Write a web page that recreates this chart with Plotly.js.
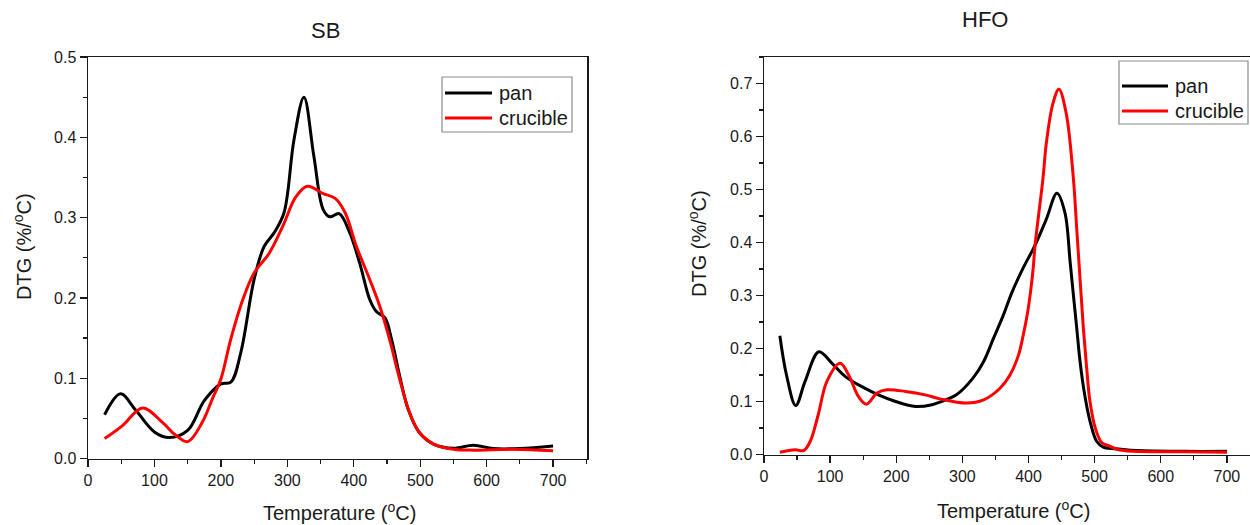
<!DOCTYPE html>
<html>
<head>
<meta charset="utf-8">
<script src="https://cdn.plot.ly/plotly-3.0.1.min.js"></script>
<style>html,body{margin:0;padding:0;background:#fff;}#chart{width:1250px;height:525px;}</style>
</head>
<body>
<div id="chart"></div>
<script>
// ---- SB data ----
const sbPanT = [25, 49, 72, 100, 122, 150, 175, 200, 215, 230, 250, 265, 280, 295, 310, 325, 340, 354, 364, 378, 394, 409, 424, 434, 447, 457, 469, 482, 499, 520, 550, 580, 610, 650, 700];
const sbPanV = [0.0545, 0.0806, 0.060, 0.033, 0.026, 0.035, 0.072, 0.093, 0.095, 0.132, 0.223, 0.264, 0.281, 0.306, 0.397, 0.450, 0.376, 0.310, 0.301, 0.305, 0.281, 0.243, 0.198, 0.183, 0.175, 0.148, 0.103, 0.061, 0.032, 0.018, 0.0128, 0.0166, 0.0124, 0.0124, 0.0157];
const sbCruT = [25, 52, 82, 112, 132, 150, 172, 187, 200, 215, 233, 250, 273, 293, 313, 330, 354, 372, 387, 404, 424, 439, 454, 469, 484, 499, 520, 550, 580, 640, 700];
const sbCruV = [0.0248, 0.041, 0.063, 0.045, 0.029, 0.021, 0.045, 0.074, 0.099, 0.149, 0.198, 0.231, 0.256, 0.289, 0.326, 0.339, 0.330, 0.324, 0.306, 0.264, 0.223, 0.190, 0.148, 0.099, 0.057, 0.032, 0.018, 0.0116, 0.0104, 0.0116, 0.0095];
// ---- HFO data ----
const hfoPanT = [24, 34, 48, 62, 83, 103, 123, 148, 173, 199, 229, 254, 266, 291, 316, 332, 347, 362, 375, 392, 410, 427, 443, 455, 463, 468, 473, 478, 485, 493, 503, 513, 540, 564, 635, 700];
const hfoPanV = [0.224, 0.150, 0.0925, 0.1375, 0.194, 0.172, 0.147, 0.128, 0.1125, 0.100, 0.0906, 0.094, 0.099, 0.1126, 0.144, 0.175, 0.219, 0.263, 0.306, 0.352, 0.395, 0.444, 0.493, 0.457, 0.363, 0.300, 0.238, 0.175, 0.1126, 0.063, 0.025, 0.014, 0.010, 0.0075, 0.006, 0.006];
const hfoCruT = [24, 47, 60, 70, 82, 95, 115, 128, 143, 155, 171, 186, 214, 244, 266, 306, 332, 357, 372, 385, 392, 398, 403, 407, 410, 422, 427, 437, 446, 457, 468, 473, 478, 483, 488, 493, 501, 511, 523, 535, 559, 635, 700];
const hfoCruV = [0.0044, 0.009, 0.0075, 0.025, 0.075, 0.1375, 0.172, 0.150, 0.109, 0.095, 0.116, 0.122, 0.119, 0.1125, 0.105, 0.097, 0.103, 0.125, 0.150, 0.188, 0.225, 0.263, 0.306, 0.350, 0.395, 0.522, 0.5875, 0.6625, 0.689, 0.644, 0.519, 0.425, 0.331, 0.238, 0.163, 0.100, 0.050, 0.022, 0.0157, 0.0094, 0.006, 0.005, 0.0044];

const seriesNames = ['pan', 'crucible'];
const seriesColors = ['#000000', '#ff0000'];
const titles = ['SB', 'HFO'];
const xTitle = 'Temperature (<sup>o</sup>C)';
const yTitle = 'DTG (%/<sup>o</sup>C)';

const FONT = 'Liberation Sans, Arial, sans-serif';
const TXT = '#1a1a1a';
const lineW = 3;

function tr(x, y, i, xa, ya) {
  return {x: x, y: y, name: seriesNames[i], xaxis: xa, yaxis: ya, mode: 'lines', showlegend: false,
    line: {color: seriesColors[i], width: lineW, shape: 'spline', smoothing: 1}};
}
const traces = [
  tr(sbPanT, sbPanV, 0, 'x', 'y'),
  tr(sbCruT, sbCruV, 1, 'x', 'y'),
  tr(hfoPanT, hfoPanV, 0, 'x2', 'y2'),
  tr(hfoCruT, hfoCruV, 1, 'x2', 'y2')
];

const axisCommon = {
  showgrid: false, zeroline: false, showline: true, linecolor: TXT, linewidth: 1.5,
  ticks: 'outside', ticklen: 7, tickwidth: 1.3, tickcolor: TXT,
  tickfont: {family: FONT, size: 16, color: TXT},
  fixedrange: true
};
const minorX = {dtick: 50, tick0: 0, ticks: 'outside', ticklen: 4, tickwidth: 1.2, tickcolor: TXT};
const minorY = {dtick: 0.05, tick0: 0, ticks: 'outside', ticklen: 4, tickwidth: 1.2, tickcolor: TXT};

// custom legends (pixel boxes)
const W = 1250, H = 525;
const px = v => v / W, py = v => (H - v) / H;
const legendBoxes = [
  {x0: 442, x1: 572, y0: 77, y1: 132, rows: [93, 118], lx0: 445, lx1: 492, tx: 497},
  {x0: 1119, x1: 1248, y0: 61, y1: 124, rows: [86, 111], lx0: 1122, lx1: 1168, tx: 1173}
];
const shapes = [];
const annotations = [];
legendBoxes.forEach(b => {
  shapes.push({type: 'rect', xref: 'paper', yref: 'paper', x0: px(b.x0), x1: px(b.x1), y0: py(b.y1), y1: py(b.y0),
    line: {color: '#8c8c8c', width: 1.2}, fillcolor: '#ffffff', layer: 'above'});
  seriesNames.forEach((n, i) => {
    shapes.push({type: 'line', xref: 'paper', yref: 'paper', x0: px(b.lx0), x1: px(b.lx1), y0: py(b.rows[i]), y1: py(b.rows[i]),
      line: {color: seriesColors[i], width: lineW}, layer: 'above'});
    annotations.push({text: n, xref: 'paper', yref: 'paper', x: px(b.tx), y: py(b.rows[i]), xanchor: 'left', yanchor: 'middle',
      showarrow: false, font: {family: FONT, size: 20, color: TXT}});
  });
});

annotations.push(
  {text: titles[0], xref: 'paper', yref: 'paper', x: px(326), y: py(31), xanchor: 'center', yanchor: 'middle', showarrow: false, font: {family: FONT, size: 22, color: TXT}},
  {text: titles[1], xref: 'paper', yref: 'paper', x: px(985), y: py(20), xanchor: 'center', yanchor: 'middle', showarrow: false, font: {family: FONT, size: 22, color: TXT}},
  {text: xTitle, xref: 'paper', yref: 'paper', x: px(339), y: py(511), xanchor: 'center', yanchor: 'middle', showarrow: false, font: {family: FONT, size: 20, color: TXT}},
  {text: xTitle, xref: 'paper', yref: 'paper', x: px(1013), y: py(509), xanchor: 'center', yanchor: 'middle', showarrow: false, font: {family: FONT, size: 20, color: TXT}},
  {text: yTitle, xref: 'paper', yref: 'paper', x: px(22), y: py(247), xanchor: 'center', yanchor: 'middle', textangle: -90, showarrow: false, font: {family: FONT, size: 20, color: TXT}},
  {text: yTitle, xref: 'paper', yref: 'paper', x: px(698), y: py(244), xanchor: 'center', yanchor: 'middle', textangle: -90, showarrow: false, font: {family: FONT, size: 20, color: TXT}}
);

const layout = {
  width: W, height: H,
  margin: {l: 0, r: 0, t: 0, b: 0},
  paper_bgcolor: '#ffffff', plot_bgcolor: '#ffffff',
  font: {family: FONT, color: TXT},
  showlegend: false,
  xaxis: Object.assign({}, axisCommon, {
    domain: [px(88), px(587)], range: [0, 751], anchor: 'y',
    tickvals: [0,100,200,300,400,500,600,700], mirror: true, minor: minorX
  }),
  yaxis: Object.assign({}, axisCommon, {
    domain: [py(458.5), py(57)], range: [0, 0.5], anchor: 'x',
    dtick: 0.1, tick0: 0, tickformat: '.1f', mirror: true, minor: minorY
  }),
  xaxis2: Object.assign({}, axisCommon, {
    domain: [px(764), 1], range: [0, 735], anchor: 'y2',
    tickvals: [0,100,200,300,400,500,600,700], mirror: true, minor: minorX
  }),
  yaxis2: Object.assign({}, axisCommon, {
    domain: [py(454.5), py(57)], range: [0, 0.75], anchor: 'x2',
    dtick: 0.1, tick0: 0, tickformat: '.1f', mirror: false, minor: minorY
  }),
  shapes: shapes,
  annotations: annotations
};

Plotly.newPlot('chart', traces, layout, {staticPlot: true, displayModeBar: false});
</script>
</body>
</html>
